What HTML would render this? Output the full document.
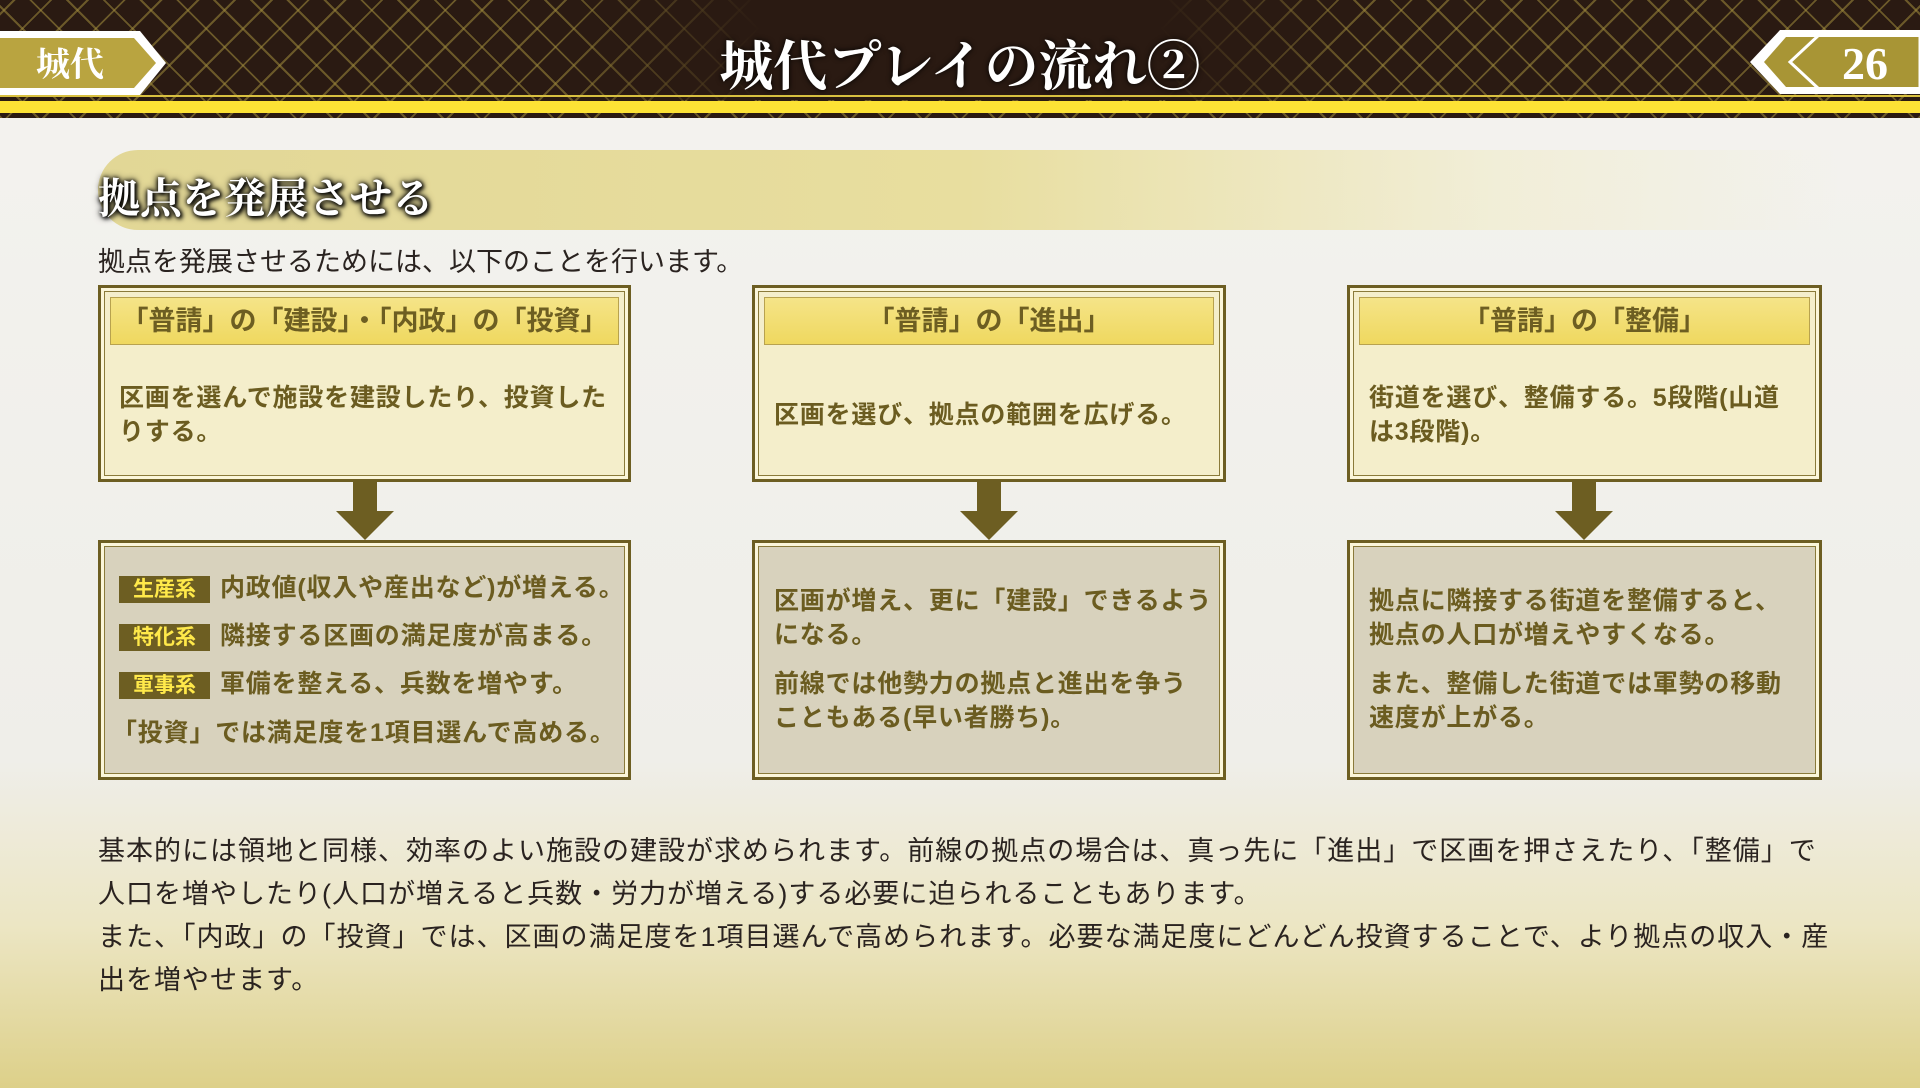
<!DOCTYPE html>
<html><head><meta charset="utf-8"><style>
*{margin:0;padding:0;box-sizing:border-box}
body{width:1920px;height:1088px;overflow:hidden;position:relative;font-family:"Liberation Sans","Noto Sans CJK JP",sans-serif;
background:linear-gradient(180deg,#f4f3ef 0%,#efeee9 70%,#ece6c4 85%,#ddd089 100%);}
.hdr{position:absolute;left:0;top:0;width:1920px;height:118px;background:#2a1a12;
background-image:repeating-linear-gradient(45deg,rgba(160,140,60,.55) 0 2px,transparent 2px 26px),repeating-linear-gradient(-45deg,rgba(160,140,60,.55) 0 2px,transparent 2px 26px);}
.hdr .mid{position:absolute;left:560px;top:0;width:800px;height:100px;background:linear-gradient(90deg,transparent,#2a1a12 25%,#2a1a12 75%,transparent)}
.y1{position:absolute;left:0;top:95px;width:1920px;height:2px;background:#d8c040}
.y2{position:absolute;left:0;top:101px;width:1920px;height:12px;background:#fde235}
.title{position:absolute;left:0;width:1920px;top:24px;text-align:center;color:#fff;font:bold 54px "Noto Serif CJK SC","Liberation Serif",serif;text-shadow:0 0 6px #000}
.abs{position:absolute}
.brush{position:absolute;left:98px;top:150px;width:1740px;height:80px;border-radius:40px 10px 10px 40px;background:linear-gradient(90deg,#e2d796 0%,#e8de9f 50%,rgba(240,235,200,.6) 80%,rgba(240,240,230,0) 100%)}
.h2{position:absolute;left:98px;top:166px;font:bold 42px "Noto Serif CJK SC",serif;color:#fff;text-shadow:0 0 4px #000,0 0 8px #000,2px 2px 4px #000}
.intro{position:absolute;left:98px;top:240px;font-size:27px;color:#2a2320}
.box{position:absolute;border:3px solid #6d5e22;box-shadow:inset 0 0 0 3px #fbf6da,inset 0 0 0 4px #8a7a3a}
.top{background:#f4eecb;top:285px;height:197px}
.bot{background:#d8d2bd;top:540px;height:240px}
.bar{position:absolute;left:9px;right:9px;top:9px;height:48px;background:linear-gradient(#f5e488,#efd85f);border:1px solid #b8a24e;text-align:center;font-size:27px;font-weight:bold;color:#6d5e22;line-height:46px}
.t{position:absolute;font-size:25px;font-weight:bold;color:#6b5c20;white-space:nowrap;line-height:34px;letter-spacing:0.8px}
.tag{display:inline-block;width:91px;height:27px;background:#6d5e22;color:#ffe94a;text-align:center;line-height:27px;font-size:21px;margin-right:10px;vertical-align:middle;letter-spacing:0}
.arr{position:absolute;top:481px;width:58px;height:59px}
.body{position:absolute;left:98px;top:830px;font-size:27px;color:#2a2320;line-height:43px;white-space:nowrap;letter-spacing:1px}
</style></head><body>
<div class="hdr"><div class="mid"></div></div>
<div class="y1"></div><div class="y2"></div>
<svg class="abs" style="left:0;top:28px" width="172" height="70"><polygon points="0,3 140,3 166,35 140,67 0,67" fill="#fff"/><polygon points="0,10 134,10 156,35 134,60 0,60" fill="#b9a440"/><text x="70" y="48" text-anchor="middle" font-size="34" fill="#fff" font-family="Noto Serif CJK SC,serif" font-weight="bold">城代</text></svg>
<svg class="abs" style="left:1750px;top:27px" width="170" height="70"><polygon points="170,3 30,3 0,35 30,67 170,67" fill="#fff"/><polygon points="170,10 36,10 14,35 36,60 170,60" fill="#a89535"/><polygon points="170,7 70,7 40,35 70,63 170,63" fill="none" stroke="#fff" stroke-width="3"/><text x="115" y="52" text-anchor="middle" font-size="46" fill="#fff" font-family="Liberation Serif,serif" font-weight="bold">26</text></svg>
<div class="title">城代プレイの流れ②</div>
<div class="brush"></div>
<div class="h2">拠点を発展させる</div>
<div class="intro">拠点を発展させるためには、以下のことを行います。</div>

<div class="box top" style="left:98px;width:533px"><div class="bar">「普請」の「建設」・「内政」の「投資」</div></div>
<div class="box top" style="left:752px;width:474px"><div class="bar">「普請」の「進出」</div></div>
<div class="box top" style="left:1347px;width:475px"><div class="bar">「普請」の「整備」</div></div>
<div class="t" style="left:119px;top:381px">区画を選んで施設を建設したり、投資した<br>りする。</div>
<div class="t" style="left:774px;top:398px">区画を選び、拠点の範囲を広げる。</div>
<div class="t" style="left:1369px;top:381px">街道を選び、整備する。5段階(山道<br>は3段階)。</div>

<svg class="arr" style="left:336px" viewBox="0 0 58 59"><polygon points="17,0 41,0 41,30 58,30 29,59 0,30 17,30" fill="#6d5e22"/></svg>
<svg class="arr" style="left:960px" viewBox="0 0 58 59"><polygon points="17,0 41,0 41,30 58,30 29,59 0,30 17,30" fill="#6d5e22"/></svg>
<svg class="arr" style="left:1555px" viewBox="0 0 58 59"><polygon points="17,0 41,0 41,30 58,30 29,59 0,30 17,30" fill="#6d5e22"/></svg>

<div class="box bot" style="left:98px;width:533px"></div>
<div class="box bot" style="left:752px;width:474px"></div>
<div class="box bot" style="left:1347px;width:475px"></div>
<div class="t" style="left:119px;top:571px"><span class="tag">生産系</span>内政値(収入や産出など)が増える。</div>
<div class="t" style="left:119px;top:619px"><span class="tag">特化系</span>隣接する区画の満足度が高まる。</div>
<div class="t" style="left:119px;top:667px"><span class="tag">軍事系</span>軍備を整える、兵数を増やす。</div>
<div class="t" style="left:112px;top:716px">「投資」では満足度を1項目選んで高める。</div>
<div class="t" style="left:774px;top:584px">区画が増え、更に「建設」できるよう<br>になる。</div>
<div class="t" style="left:774px;top:667px">前線では他勢力の拠点と進出を争う<br>こともある(早い者勝ち)。</div>
<div class="t" style="left:1369px;top:584px">拠点に隣接する街道を整備すると、<br>拠点の人口が増えやすくなる。</div>
<div class="t" style="left:1369px;top:667px">また、整備した街道では軍勢の移動<br>速度が上がる。</div>

<div class="body">基本的には領地と同様、効率のよい施設の建設が求められます。前線の拠点の場合は、真っ先に「進出」で区画を押さえたり、「整備」で<br>人口を増やしたり(人口が増えると兵数・労力が増える)する必要に迫られることもあります。<br>また、「内政」の「投資」では、区画の満足度を1項目選んで高められます。必要な満足度にどんどん投資することで、より拠点の収入・産<br>出を増やせます。</div>
</body></html>
